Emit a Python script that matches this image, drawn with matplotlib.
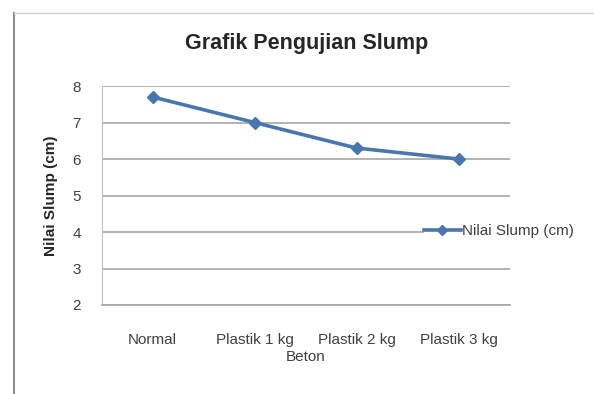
import matplotlib
matplotlib.use("Agg")
import matplotlib.pyplot as plt
from matplotlib.lines import Line2D

# data
categories = ["Normal", "Plastik 1 kg", "Plastik 2 kg", "Plastik 3 kg"]
slump_values = [7.7, 7.0, 6.3, 6.0]
y_ticks = [2, 3, 4, 5, 6, 7, 8]
series_label = "Nilai Slump (cm)"

plt.rcParams["font.family"] = ["Liberation Sans", "DejaVu Sans"]

fig = plt.figure(figsize=(5.94, 3.94), dpi=100)
fig.patch.set_facecolor("white")

# outer frame of the chart area (top and left edges only visible)
fig.add_artist(Line2D([14 / 594, 14 / 594], [0, 1 - 13 / 394],
                      transform=fig.transFigure, color="#8c8c8c", lw=1.5))
fig.add_artist(Line2D([14 / 594, 1], [1 - 13 / 394, 1 - 13 / 394],
                      transform=fig.transFigure, color="#d0d0d0", lw=1))

ax = fig.add_axes([101.5 / 594, 1 - 305 / 394, 408 / 594, 219 / 394])
x = list(range(len(categories)))
ax.plot(x, slump_values, color="#4a76b0", lw=2.6, marker="D",
        markersize=6, markerfacecolor="#4a76b0", markeredgecolor="#4a76b0",
        label=series_label, zorder=3)

ax.set_xlim(-0.5, len(categories) - 0.5)
ax.set_ylim(2, 8)
ax.set_yticks(y_ticks)
ax.set_xticks(x)
ax.set_xticklabels(categories)
ax.yaxis.grid(True, color="#a6a6a6", lw=1.2)
ax.set_axisbelow(True)
for side in ["top", "right"]:
    ax.spines[side].set_visible(False)
ax.spines["left"].set_color("#bfbfbf")
ax.spines["bottom"].set_color("#a6a6a6")
ax.spines["bottom"].set_linewidth(1.2)
ax.tick_params(axis="y", length=0, labelsize=11, colors="#404040", pad=15)
ax.tick_params(axis="x", length=0, labelsize=11, colors="#404040", pad=20)

ax.set_xlabel("Beton", fontsize=11, color="#404040", labelpad=2)
ax.set_ylabel("Nilai Slump (cm)", fontsize=11, fontweight="bold",
              color="#262626", labelpad=10)

fig.text(307 / 594, 1 - 43 / 394, "Grafik Pengujian Slump", ha="center",
         va="center", fontsize=15.5, fontweight="bold", color="#262626")

fig.legend(loc="center left", bbox_to_anchor=(424 / 594, 1 - 231 / 394),
           frameon=True, facecolor="white", edgecolor="white", framealpha=1,
           borderpad=0, borderaxespad=0, handlelength=2.4, handletextpad=0.1,
           fontsize=11, labelcolor="#404040", markerscale=0.8)

fig.savefig("out.png", dpi=100)
